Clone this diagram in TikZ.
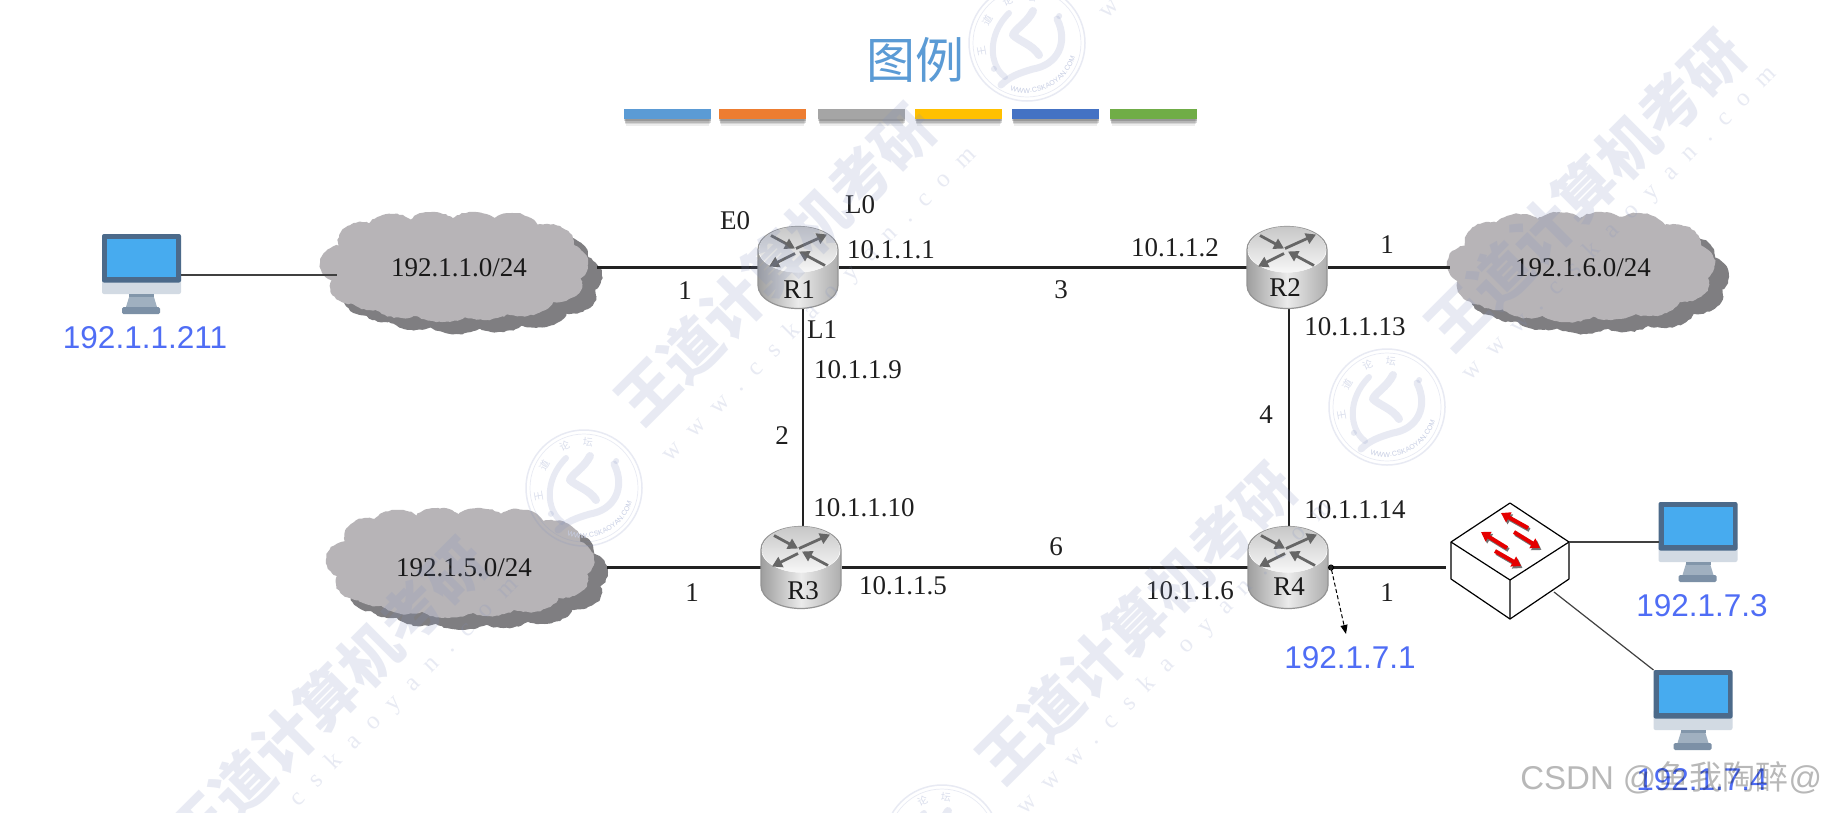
\documentclass[tikz,border=0pt]{standalone}
\usepackage{fontspec}
\setmainfont{Liberation Serif}
\setsansfont{Liberation Sans}
\newfontfamily\cjk{Noto Sans CJK SC}
\newfontfamily\wmspaced[LetterSpace=62]{Liberation Serif}
\usetikzlibrary{arrows.meta,decorations.text,decorations.pathmorphing}
\definecolor{wmcol}{HTML}{8090C0}
\definecolor{ipblue}{HTML}{4F6DF5}
\definecolor{cloudlight}{HTML}{B7B4B7}
\definecolor{clouddark}{HTML}{7F7E81}
\definecolor{titleblue}{HTML}{5B9BD5}
\definecolor{wire}{HTML}{222222}
\pgfmathsetseed{7}
\tikzset{
  x=1pt,y=-1pt,
  every node/.style={inner sep=0pt,outer sep=0pt},
  lbl/.style={font=\fontsize{27}{30}\selectfont,text=black!88},
  rlbl/.style={font=\fontsize{27}{30}\selectfont,text=black!90},
  iplbl/.style={font=\sffamily\fontsize{31.5}{34}\selectfont,text=ipblue},
  link/.style={draw=wire,line width=2.4pt},
  thinlink/.style={draw=black!75,line width=1.2pt},
  routerbox/.style={minimum width=81pt,minimum height=82pt},
  pcbox/.style={minimum width=79pt,minimum height=80pt},
  cloudbox/.style={font=\fontsize{27}{30}\selectfont,text=black!90},
  swbox/.style={minimum width=118pt,minimum height=116pt,outer sep=5pt},
  wmtitle/.style={font=\cjk\bfseries\fontsize{60}{62}\selectfont,text=wmcol,text opacity=.18,rotate=45},
  wmurl/.style={font=\wmspaced\fontsize{25}{27}\selectfont,text=wmcol,text opacity=.18,rotate=45},
  bar/.style={minimum width=87pt,minimum height=10pt},
  redarrow/.style={draw=red!90!black,line width=4pt,-{Triangle[length=9pt,width=11pt]}},
  redshadow/.style={draw=black!55,line width=4pt,-{Triangle[length=9pt,width=11pt]}},
  routerarrow/.style={draw=black!60,line width=2.8pt,-{Triangle[length=10pt,width=11pt]}},
  pics/pcicon/.style={code={
    \begin{scope}[shift={(-39.5,-40)}]
      \fill[rounded corners=2pt,fill={rgb,255:red,210;green,218;blue,227}] (0,40) rectangle (79,60);
      \fill[fill={rgb,255:red,76;green,106;blue,138},rounded corners=2pt] (0,0) rectangle (79,48.5);
      \fill[fill={rgb,255:red,71;green,171;blue,239}] (5,5) rectangle (74,43);
      \fill[fill={rgb,255:red,160;green,176;blue,192}] (28,60) -- (51,60) -- (55,73) -- (24,73) -- cycle;
      \fill[fill={rgb,255:red,130;green,150;blue,170}] (27,60) rectangle (52,63);
      \fill[fill={rgb,255:red,124;green,144;blue,166},rounded corners=1.5pt] (20,73) rectangle (58,80);
    \end{scope}}},
  pics/routericon/.style={code={
    \shade[left color=black!38,right color=black!32,middle color=black!8]
      (-40,-18) -- (-40,18) arc[start angle=180,end angle=360,x radius=40pt,y radius=23pt] -- (40,-18)
      arc[start angle=0,end angle=-180,x radius=40pt,y radius=23pt] -- cycle;
    \draw[black!42,line width=1.2pt]
      (-40,-18) -- (-40,18) arc[start angle=180,end angle=360,x radius=40pt,y radius=23pt] -- (40,-18)
      arc[start angle=0,end angle=180,x radius=40pt,y radius=23pt] -- cycle;
    \shade[top color=black!22,bottom color=black!3]
      (0,-18) ellipse[x radius=39pt,y radius=23pt];
    \draw[routerarrow] (-27,-32) -- (-3,-19);
    \draw[routerarrow] (-2,-19) -- (29,-33);
    \draw[routerarrow] (-3,-14) -- (-29,-1);
    \draw[routerarrow] (27,-2) -- (1,-16);
  }},
  pics/cloudicon/.style={code={
    \foreach \sh/\col in {14/clouddark,0/cloudlight}{
      \begin{scope}[shift={(\sh,\sh*0.85)}]
        \foreach \cx/\cy/\rx/\ry in {-112/-2/22/19,-100/20/24/18,-92/-24/24/20,-62/-32/28/20,-22/-34/28/20,20/-36/28/18,58/-33/28/20,92/-22/28/20,110/-2/24/20,100/18/28/18,68/30/32/20,30/36/32/18,-12/38/34/18,-52/32/32/20,-84/28/22/16,0/0/110/40}{
          \fill[\col,decorate,decoration={random steps,segment length=3pt,amplitude=.7pt}] (\cx,\cy) ellipse[x radius=\rx pt,y radius=\ry pt];
        }
      \end{scope}
    }
  }},
  pics/sealicon/.style={code={
    \begin{scope}[draw=wmcol,draw opacity=.18,fill=wmcol,fill opacity=.18]
      \draw[line width=1.5pt] (0,0) circle[radius=58pt];
      \draw[line width=.7pt] (0,0) circle[radius=54pt];
      \draw[line width=6pt,line cap=round] (-18,-30) .. controls (-40,-8) and (-38,22) .. (-22,34);
      \draw[line width=7pt,line cap=round] (30,-24) .. controls (42,0) and (30,22) .. (6,26) .. controls (-8,30) and (-18,34) .. (-26,42);
      \draw[line width=8pt,line cap=round,line join=round] (6,-32) .. controls (0,-20) and (-12,-14) .. (-14,-8) .. controls (-8,-2) and (6,2) .. (12,12);
      \fill (40:42pt) circle[radius=3pt];
      \fill (218:42pt) circle[radius=3pt];
    \end{scope}
    \node[font=\cjk\fontsize{10}{10}\selectfont,text=wmcol,text opacity=.3,rotate=100] at (190:46pt) {王};
    \node[font=\cjk\fontsize{10}{10}\selectfont,text=wmcol,text opacity=.3,rotate=60] at (150:46pt) {道};
    \node[font=\cjk\fontsize{10}{10}\selectfont,text=wmcol,text opacity=.3,rotate=25] at (115:46pt) {论};
    \node[font=\cjk\fontsize{10}{10}\selectfont,text=wmcol,text opacity=.3,rotate=-5] at (85:46pt) {坛};
    \path[postaction={decorate},decoration={text along path,raise=-2pt,
        text={|\sffamily\fontsize{7}{7}\selectfont\color{wmcol!45!white}|WWW.CSKAOYAN.COM}}]
      (250:48pt) arc[start angle=250,end angle=385,radius=48pt];
  }},
}
\begin{document}
\begin{tikzpicture}
\useasboundingbox (0,0) rectangle (1824,812);
\fill[white] (0,0) rectangle (1824,812);

% clouds
\pic at (454,266) {cloudicon};
\pic at (1581,266) {cloudicon};
\pic at (460,562) {cloudicon};
\node[cloudbox,minimum width=276pt] (netA) at (459,267.5) {192.1.1.0/24};
\node[cloudbox,minimum width=266pt] (netB) at (1583,267.5) {192.1.6.0/24};
\node[cloudbox,minimum width=286pt] (netC) at (464,567.5) {192.1.5.0/24};

% routers
\node[routerbox] (R1) at (798,267.5) {};
\node[routerbox] (R2) at (1287,267.5) {};
\node[routerbox] (R3) at (801,567.5) {};
\node[routerbox] (R4) at (1288,567.5) {};
\coordinate (vleft) at (803,430);
\coordinate (vright) at (1289,430);

\path[link] (netA.east) -- (R1.west);
\path[link] (R1.east) -- (R2.west);
\path[link] (R2.east) -- (netB.west);
\path[link] (netC.east) -- (R3.west);
\path[link] (R3.east) -- (R4.west);
\path[link] (R1.south -| vleft) -- (R3.north -| vleft);
\path[link] (R2.south -| vright) -- (R4.north -| vright);

\pic at (R1) {routericon};
\pic at (R2) {routericon};
\pic at (R3) {routericon};
\pic at (R4) {routericon};

% PCs
\node[pcbox] (pcA) at (141.5,274) {};
\node[pcbox] (pcB) at (1698,542) {};
\node[pcbox] (pcC) at (1693,710) {};
\pic at (pcA) {pcicon};
\pic at (pcB) {pcicon};
\pic at (pcC) {pcicon};
\coordinate (netAin) at (337,275);
\path[thinlink] (pcA.east |- netAin) -- (netAin);

% switch
\node[swbox] (sw) at (1510,561) {};
\coordinate (swL) at (1451,542);
\coordinate (swT) at (1510,503);
\coordinate (swR) at (1569,542);
\coordinate (swF) at (1510,580);
\coordinate (swB) at (1510,619);
\coordinate (swLB) at (1451,579);
\coordinate (swRB) at (1569,579);
\coordinate (swOut) at (1554,592);
\filldraw[fill=white,draw=black,line width=1.2pt,line join=round]
  (swL) -- (swT) -- (swR) -- (swRB) -- (swB) -- (swLB) -- cycle;
\draw[black,line width=1.2pt] (swL) -- (swF) -- (swR) (swF) -- (swB);
\foreach \ax/\ay/\bx/\by in {1528/528/1501/513,1507/548/1481/532,1514/532/1540/548,1495/551/1521/566}{
  \draw[redshadow] (\ax+1.5,\ay+2) -- (\bx+1.5,\by+2);
  \draw[redarrow] (\ax,\ay) -- (\bx,\by);
}
\path[link] (R4.east) -- (R4.east -| sw.west);
\path[thinlink] (swR) -- (pcB.west |- swR);
\path[thinlink] (swOut) -- (pcC.north west);

% port marker
\node[circle,draw=black,line width=1pt,minimum size=5pt] (port) at (1331,567.5) {};
\coordinate (portTip) at (1346,634);
\draw[black,line width=1pt,dashed,dash pattern=on 4pt off 2.5pt,-{Triangle[length=9pt,width=7pt]}] (port) -- (portTip);

% network labels
\node[rlbl] (tagR1) at (799,290) {R1};
\node[rlbl] (tagR2) at (1285,288) {R2};
\node[rlbl] (tagR3) at (803,591) {R3};
\node[rlbl] (tagR4) at (1289,587) {R4};
\node[lbl] (e0) at (735,221) {E0};
\node[lbl] (l0) at (860,205) {L0};
\node[lbl] (a1) at (891,250) {10.1.1.1};
\node[lbl] (a2) at (1175,248) {10.1.1.2};
\node[lbl] (n1a) at (1387,245) {1};
\node[lbl] (n1b) at (685,291) {1};
\node[lbl] (n3) at (1061,290) {3};
\node[lbl] (l1) at (822,330) {L1};
\node[lbl] (a9) at (858,370) {10.1.1.9};
\node[lbl] (a13) at (1355,327) {10.1.1.13};
\node[lbl] (n2) at (782,436) {2};
\node[lbl] (n4) at (1266,415) {4};
\node[lbl] (a10) at (864,508) {10.1.1.10};
\node[lbl] (a14) at (1355,510) {10.1.1.14};
\node[lbl] (n6) at (1056,547) {6};
\node[lbl] (n1c) at (692,593) {1};
\node[lbl] (a5) at (903,586) {10.1.1.5};
\node[lbl] (a6) at (1190,591) {10.1.1.6};
\node[lbl] (n1d) at (1387,593) {1};

% blue addresses
\node[iplbl] (ipA) at (145,338) {192.1.1.211};
\node[iplbl] (ipB) at (1350,658) {192.1.7.1};
\node[iplbl] (ipC) at (1702,606) {192.1.7.3};
\node[iplbl] (ipD) at (1702,780) {192.1.7.4};

% title and bars
\node[font=\cjk\fontsize{49}{52}\selectfont,text=titleblue] (title) at (915,60) {图例};
\foreach \bx/\bc in {667.5/5B9BD5,762.5/ED7D31,861.5/A5A5A5,958.5/FFC000,1055.5/4472C4,1153.5/70AD47}{
  \foreach \dy/\ins/\op in {6.5/2/.07,5/1.2/.10,3.5/.5/.14,2/0/.16}{
    \fill[black,opacity=\op] (\bx-43.5+\ins,109+\dy) rectangle (\bx+43.5-\ins,119+\dy);
  }
  \definecolor{barcol}{HTML}{\bc}
  \node[bar,fill=barcol] at (\bx,114) {};
}

% watermarks
\node[wmtitle] (w1) at (775,264) {王道计算机考研};
\node[wmurl] (u1) at (820,305) {www.cskaoyan.com};
\node[wmtitle] (w2) at (1585,190) {王道计算机考研};
\node[wmurl] (u2) at (1620,224) {www.cskaoyan.com};
\node[wmtitle] (w3) at (1136,623) {王道计算机考研};
\node[wmurl] (u3) at (1175,658) {www.cskaoyan.com};
\node[wmtitle] (w4) at (327,698) {王道计算机考研};
\node[wmurl] (u4) at (362,735) {www.cskaoyan.com};
\node[font=\wmspaced\fontsize{25}{27}\selectfont,text=wmcol,text opacity=.18,rotate=45] (u5) at (1110,9) {w};
\pic at (1027,43) {sealicon};
\pic at (584,488) {sealicon};
\pic at (1387,407) {sealicon};
\pic at (942,843) {sealicon};

% CSDN mark
\node[anchor=east,font=\sffamily\fontsize{33}{35}\selectfont,text=black,text opacity=.28] (csdn) at (1822,778) {CSDN @{\cjk 鱼我陶醉}@};
\end{tikzpicture}
\end{document}
